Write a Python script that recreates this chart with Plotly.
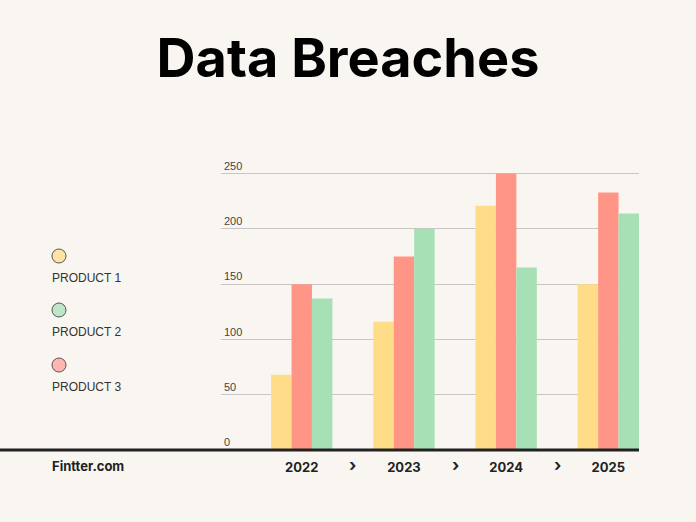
import plotly.graph_objects as go

years = ["2022", "2023", "2024", "2025"]
product1 = [68, 116, 221, 150]
product2 = [137, 200, 165, 214]
product3 = [150, 175, 250, 233]
series_names = ["PRODUCT 1", "PRODUCT 2", "PRODUCT 3"]
y_ticks = [0, 50, 100, 150, 200, 250]

bar_colors = {"PRODUCT 1": "#FFDC88", "PRODUCT 3": "#FF9586", "PRODUCT 2": "#A6E0B4"}
legend_colors = {"PRODUCT 1": "#FFE3A6", "PRODUCT 2": "#BFE6C8", "PRODUCT 3": "#FFB6B0"}

bg = "#F9F6F2"
W, H = 696, 522
ml, mr, mt, mb = 221, 57, 157, 72

xs = list(range(len(years)))
fig = go.Figure()
# order in each group: product1 (yellow), product3 (red), product2 (green)
for name, vals in [("PRODUCT 1", product1), ("PRODUCT 3", product3), ("PRODUCT 2", product2)]:
    fig.add_trace(go.Bar(x=xs, y=vals, name=name, marker=dict(color=bar_colors[name], line=dict(width=0)),
                         showlegend=False))

pw = W - ml - mr
def px_to_paper_x(px):
    return (px - ml) / pw
ph = H - mt - mb
def px_to_paper_y(py):
    return (H - mb - py) / ph

shapes = []
annotations = []
# baseline
shapes.append(dict(type="line", xref="paper", yref="paper", x0=px_to_paper_x(0), x1=1.0,
                   y0=px_to_paper_y(450), y1=px_to_paper_y(450), line=dict(color="#222222", width=3)))

# legend
leg_y = [256, 310, 365]
for name, cy in zip(series_names, leg_y):
    r = 7
    shapes.append(dict(type="circle", xref="paper", yref="paper",
                       x0=px_to_paper_x(59 - r), x1=px_to_paper_x(59 + r),
                       y0=px_to_paper_y(cy + r), y1=px_to_paper_y(cy - r),
                       fillcolor=legend_colors[name], line=dict(color="#555555", width=1)))
    annotations.append(dict(text=name, xref="paper", yref="paper", x=px_to_paper_x(50),
                            y=px_to_paper_y(cy + 22), xanchor="left", yanchor="middle", showarrow=False,
                            font=dict(family="Liberation Sans, Arial", size=12, color="#333333")))

# chevrons between years
for i in range(len(years) - 1):
    annotations.append(dict(text="<b>›</b>", xref="x", yref="paper", x=i + 0.5, y=px_to_paper_y(465),
                            xanchor="center", yanchor="middle", showarrow=False,
                            font=dict(family="Inter, sans-serif", size=17, color="#222222")))

annotations.append(dict(text="<b>Fintter.com</b>", xref="paper", yref="paper", x=px_to_paper_x(50),
                        y=px_to_paper_y(466), xanchor="left", yanchor="middle", showarrow=False,
                        font=dict(family="Inter, sans-serif", size=13, color="#222222")))

fig.update_layout(
    width=W, height=H,
    margin=dict(l=ml, r=mr, t=mt, b=mb),
    paper_bgcolor=bg, plot_bgcolor=bg,
    barmode="group", bargap=0.4, bargroupgap=0,
    title=dict(text="<b>Data Breaches</b>", x=0.5, xanchor="center", xref="container",
               y=1 - 58 / H, yanchor="middle", yref="container",
               font=dict(family="Inter, sans-serif", size=54, color="#000000")),
    xaxis=dict(range=[-0.79, 3.3], tickvals=xs, ticktext=["<b>%s</b>" % y for y in years],
               showgrid=False, zeroline=False, showline=False, ticks="", ticklabelstandoff=8,
               tickfont=dict(family="Inter, sans-serif", size=13, color="#222222")),
    yaxis=dict(range=[0, 265], tickvals=y_ticks, showgrid=True, gridcolor="#C8C5C2", gridwidth=1,
               zeroline=False, showline=False, ticks="", ticklabelposition="inside top",
               tickfont=dict(family="Liberation Sans, Arial", size=11, color="#444444")),
    shapes=shapes, annotations=annotations,
)

fig.write_html("out.html")
